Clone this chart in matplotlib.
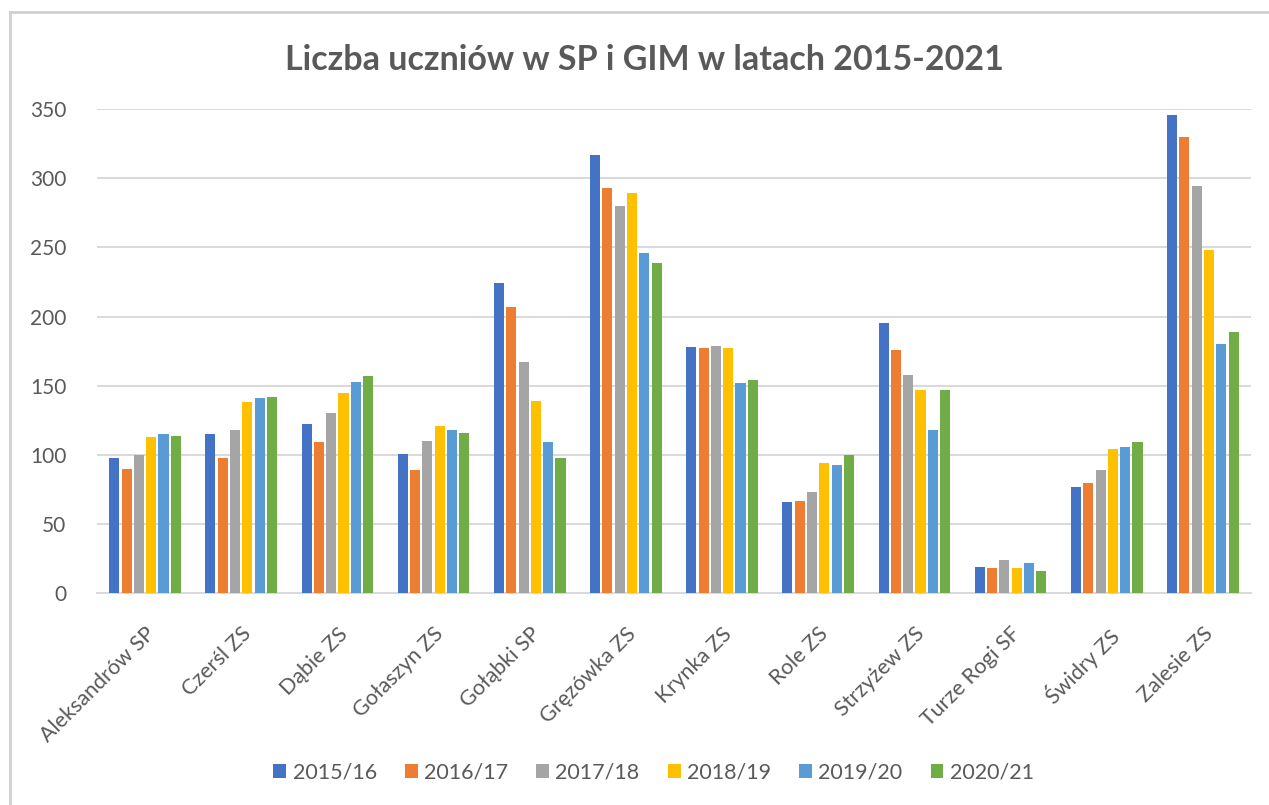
import numpy as np
import matplotlib
matplotlib.use('Agg')
from matplotlib import pyplot as plt
from matplotlib.lines import Line2D

plt.rcParams['font.family'] = ['Lato', 'DejaVu Sans']

schools = ['Aleksandrów SP', 'Czerśl ZS', 'Dąbie ZS', 'Gołaszyn ZS', 'Gołąbki SP',
           'Gręzówka ZS', 'Krynka ZS', 'Role ZS', 'Strzyżew ZS', 'Turze Rogi SF',
           'Świdry ZS', 'Zalesie ZS']
years = ['2015/16', '2016/17', '2017/18', '2018/19', '2019/20', '2020/21']

y2015 = [98, 115, 122, 101, 224, 317, 178, 66, 195, 19, 77, 346]
y2016 = [90, 98, 109, 89, 207, 293, 177, 67, 176, 18, 80, 330]
y2017 = [100, 118, 130, 110, 167, 280, 179, 73, 158, 24, 89, 294]
y2018 = [113, 138, 145, 121, 139, 289, 177, 94, 147, 18, 104, 248]
y2019 = [115, 141, 153, 118, 109, 246, 152, 93, 118, 22, 106, 180]
y2020 = [114, 142, 157, 116, 98, 239, 154, 100, 147, 16, 109, 189]

series = [y2015, y2016, y2017, y2018, y2019, y2020]
colors = ['#4472C4', '#ED7D31', '#A5A5A5', '#FFC000', '#5B9BD5', '#70AD47']

fig = plt.figure(figsize=(12.69, 8.05), dpi=100)
ax = fig.add_axes([0.0764, 0.263, 0.9094, 0.6016])

x = np.arange(len(schools))
slot = 0.128
width = 0.105
for i, (vals, col, lab) in enumerate(zip(series, colors, years)):
    ax.bar(x + (i - 2.5) * slot, vals, width, color=col, label=lab, zorder=3)

ax.set_xlim(-0.5, len(schools) - 0.5)
ax.set_ylim(0, 350)
ax.set_yticks(np.arange(0, 351, 50))
ax.yaxis.grid(True, color='#D9D9D9', linewidth=1.4, zorder=0)
for s in ['top', 'right', 'left']:
    ax.spines[s].set_visible(False)
ax.spines['bottom'].set_color('#D9D9D9')
ax.spines['bottom'].set_linewidth(1.4)
ax.tick_params(axis='y', length=0, pad=22, labelsize=15, labelcolor='#595959')
ax.tick_params(axis='x', length=0, pad=22, labelsize=15.5, labelcolor='#595959')
ax.set_xticks(x)
ax.set_xticklabels(schools, rotation=45, ha='right', va='top', rotation_mode='anchor')

fig.suptitle('Liczba uczniów w SP i GIM w latach 2015-2021', x=0.5075, y=0.926,
             fontsize=24.5, fontweight='bold', color='#595959', va='center')

ax.legend(loc='center', bbox_to_anchor=(0.515, 0.040), bbox_transform=fig.transFigure,
          ncol=6, frameon=False, fontsize=15.5, labelcolor='#595959',
          handlelength=0.6, handleheight=0.6, handletextpad=0.3, columnspacing=1.3)

# chart frame edges
fig.add_artist(Line2D([0.008, 0.008], [0.0, 0.985], color='#D0D0D0', lw=2))
fig.add_artist(Line2D([0.008, 1.0], [0.985, 0.985], color='#D0D0D0', lw=2))

plt.savefig('out.png', dpi=100)
